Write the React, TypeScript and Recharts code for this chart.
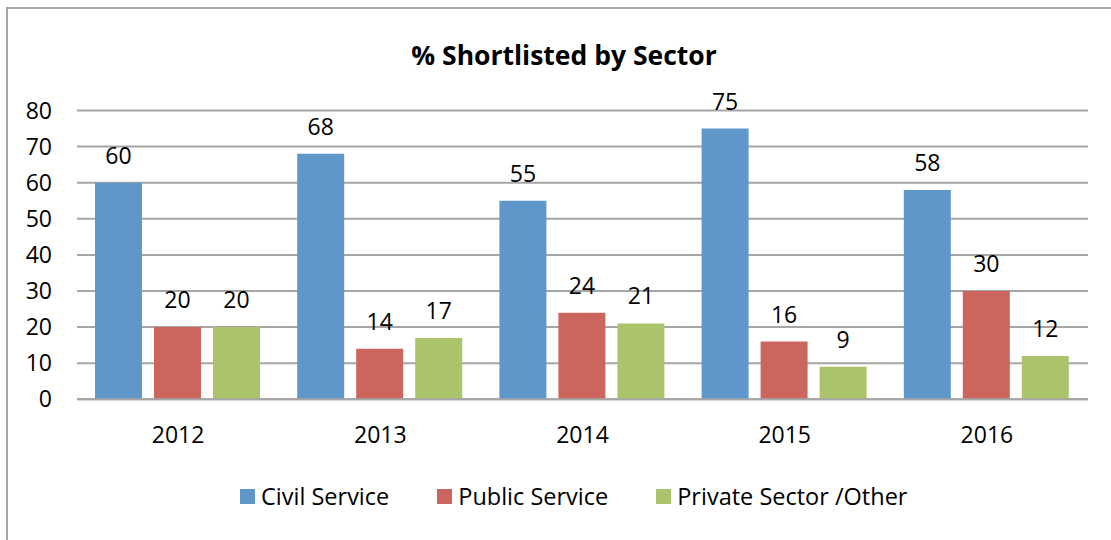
import React from 'react';
import { BarChart, Bar, XAxis, YAxis, CartesianGrid, LabelList } from 'recharts';

const chartTitle = '% Shortlisted by Sector';
const years = ['2012', '2013', '2014', '2015', '2016'];
const civilService = [60, 68, 55, 75, 58];
const publicService = [20, 14, 24, 16, 30];
const privateSector = [20, 17, 21, 9, 12];
const yTicks = [0, 10, 20, 30, 40, 50, 60, 70, 80];
const seriesKeys = ['civil', 'public', 'private'];
const seriesNames = ['Civil Service', 'Public Service', 'Private Sector /Other'];
const seriesColors = ['#6097CA', '#CD655F', '#ABC46B'];

const data = years.map((y, i) => ({
  year: y,
  civil: civilService[i],
  public: publicService[i],
  private: privateSector[i],
}));

const FONT = '"Open Sans", "Liberation Sans", sans-serif';
const GRID = '#a6a6a6';

export default function App() {
  return (
    <div style={{ position: 'absolute', left: 0, top: 0, width: 1111, height: 540, overflow: 'hidden', background: '#fff', fontFamily: FONT }}>
      <div
        style={{
          position: 'absolute',
          left: 6,
          top: 7,
          width: 1105,
          height: 533,
          borderLeft: `2px solid ${GRID}`,
          borderTop: `2px solid ${GRID}`,
          boxSizing: 'border-box',
        }}
      />
      <div
        style={{
          position: 'absolute',
          left: 364,
          width: 400,
          top: 37,
          textAlign: 'center',
          fontWeight: 700,
          fontSize: 26.5,
          lineHeight: '36px',
          color: '#000',
        }}
      >
        {chartTitle}
      </div>
      <div style={{ position: 'absolute', left: 0, top: 0 }}>
        <BarChart
          width={1111}
          height={540}
          data={data}
          margin={{ top: 110.5, right: 23, bottom: 100.7, left: 17 }}
          barCategoryGap={18}
          barGap={12}
        >
          <CartesianGrid vertical={false} stroke={GRID} strokeWidth={2} />
          <XAxis
            dataKey="year"
            height={40}
            axisLine={{ stroke: GRID, strokeWidth: 2 }}
            tickLine={false}
            tickSize={0}
            tickMargin={27}
            tick={{ fill: '#000', fontSize: 23, fontFamily: FONT }}
          />
          <YAxis
            width={60}
            domain={[0, 80]}
            ticks={yTicks}
            interval={0}
            axisLine={false}
            tickLine={false}
            tickSize={0}
            tickMargin={25}
            tick={{ fill: '#000', fontSize: 23, fontFamily: FONT }}
          />
          {seriesKeys.map((k, i) => (
            <Bar key={k} dataKey={k} name={seriesNames[i]} fill={seriesColors[i]} isAnimationActive={false}>
              <LabelList dataKey={k} position="top" offset={19} fill="#000" fontSize={23} fontFamily={FONT} />
            </Bar>
          ))}
        </BarChart>
      </div>
      <div style={{ position: 'absolute', left: 240, top: 481, height: 30, display: 'flex', alignItems: 'center' }}>
        {seriesNames.map((n, i) => (
          <div key={n} style={{ display: 'flex', alignItems: 'center', marginRight: 48 }}>
            <div style={{ width: 15, height: 15, background: seriesColors[i], marginRight: 6 }} />
            <span style={{ fontSize: 23.5, color: '#000', whiteSpace: 'nowrap' }}>{n}</span>
          </div>
        ))}
      </div>
    </div>
  );
}
